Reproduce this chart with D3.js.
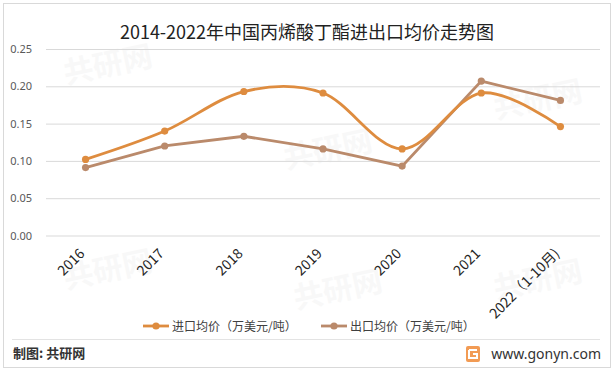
<!DOCTYPE html>
<html>
<head>
<meta charset="utf-8">
<script src="https://cdn.jsdelivr.net/npm/d3@7"></script>
<style>
  body { margin: 0; background: #fff; }
  svg { display: block; font-family: "Microsoft YaHei", "Noto Sans CJK SC", sans-serif; }
</style>
</head>
<body>
<div id="chart"></div>
<script>
// data
var years = ["2016", "2017", "2018", "2019", "2020", "2021", "2022（1-10月)"];
var importPrice = [0.102, 0.140, 0.193, 0.191, 0.116, 0.191, 0.146];
var exportPrice = [0.091, 0.120, 0.133, 0.116, 0.093, 0.207, 0.181];
var yTicks = [0, 0.05, 0.10, 0.15, 0.20, 0.25];
var seriesNames = ["进口均价（万美元/吨）", "出口均价（万美元/吨）"];

var width = 614, height = 371;
var margin = {top: 49, right: 14, bottom: 135.5, left: 46};

var svg = d3.select("#chart").append("svg")
    .attr("width", width)
    .attr("height", height);

// outer frame
svg.append("rect")
    .attr("x", 3.5).attr("y", 3.5)
    .attr("width", width - 7).attr("height", height - 7)
    .attr("fill", "#fff")
    .attr("stroke", "#d9d9d9");

// faint watermarks
var marks = [[110, 75], [330, 160], [540, 110], [110, 280], [340, 300], [540, 290]];
svg.selectAll(".wm").data(marks).enter().append("text")
    .attr("class", "wm")
    .attr("x", function (d) { return d[0]; })
    .attr("y", function (d) { return d[1]; })
    .attr("transform", function (d) { return "rotate(-12," + d[0] + "," + d[1] + ")"; })
    .attr("text-anchor", "middle")
    .attr("font-size", 30)
    .attr("font-weight", "bold")
    .attr("fill", "#000")
    .attr("opacity", 0.025)
    .text("共研网");

var x = d3.scaleBand()
    .domain(years)
    .range([margin.left, width - margin.right]);

var y = d3.scaleLinear()
    .domain([0, 0.25])
    .range([height - margin.bottom, margin.top]);

// title
svg.append("text")
    .attr("x", 307).attr("y", 39)
    .attr("text-anchor", "middle")
    .attr("font-size", 18)
    .attr("fill", "#222")
    .text("2014-2022年中国丙烯酸丁酯进出口均价走势图");

// gridlines + y labels
var yAxis = svg.append("g")
    .attr("transform", "translate(" + margin.left + ",0)")
    .call(d3.axisLeft(y)
        .tickValues(yTicks)
        .tickSize(-(width - margin.left - margin.right))
        .tickFormat(d3.format(".2f"))
        .tickPadding(14));
yAxis.select(".domain").remove();
yAxis.selectAll("line").attr("stroke", "#d9d9d9");
yAxis.selectAll("text")
    .attr("font-size", 11)
    .attr("fill", "#595959")
    .attr("font-family", "Noto Sans, sans-serif");

// x labels rotated
svg.selectAll(".xlab").data(years).enter().append("text")
    .attr("class", "xlab")
    .attr("transform", function (d) {
        var cx = x(d) + x.bandwidth() / 2;
        return "translate(" + cx + "," + (height - margin.bottom + 19) + ") rotate(-45)";
    })
    .attr("text-anchor", "end")
    .attr("font-size", 14)
    .attr("fill", "#262626")
    .text(function (d) { return d; });

var colors = ["#DE8C3F", "#BA8A6B"];
var cx = function (d, i) { return x(years[i]) + x.bandwidth() / 2; };

var smoothLine = d3.line()
    .x(cx)
    .y(function (d) { return y(d); })
    .curve(d3.curveCardinal.tension(0));

var straightLine = d3.line()
    .x(cx)
    .y(function (d) { return y(d); });

var series = [
    {vals: importPrice, gen: smoothLine, color: colors[0]},
    {vals: exportPrice, gen: straightLine, color: colors[1]}
];

// draw export first so import sits on top
[series[1], series[0]].forEach(function (s) {
    svg.append("path")
        .attr("d", s.gen(s.vals))
        .attr("fill", "none")
        .attr("stroke", s.color)
        .attr("stroke-width", 2.8)
        .attr("stroke-linecap", "round");
    svg.selectAll(null).data(s.vals).enter().append("circle")
        .attr("cx", cx)
        .attr("cy", function (d) { return y(d); })
        .attr("r", 3.6)
        .attr("fill", s.color);
});

// legend
var legendX = [143, 321];
seriesNames.forEach(function (name, i) {
    var g = svg.append("g").attr("transform", "translate(" + legendX[i] + ",326)");
    g.append("line")
        .attr("x1", 0).attr("x2", 26)
        .attr("stroke", colors[i]).attr("stroke-width", 2.8);
    g.append("circle").attr("cx", 13).attr("r", 3.6).attr("fill", colors[i]);
    g.append("text")
        .attr("x", 29).attr("y", 4.5)
        .attr("font-size", 12)
        .attr("fill", "#404040")
        .text(name);
});

// separator + footer
svg.append("line")
    .attr("x1", 12).attr("x2", 600)
    .attr("y1", 339.5).attr("y2", 339.5)
    .attr("stroke", "#e3e3e3");

svg.append("text")
    .attr("x", 13).attr("y", 358)
    .attr("font-size", 13)
    .attr("font-weight", "bold")
    .attr("fill", "#333")
    .text("制图: 共研网");

var logo = svg.append("g").attr("transform", "translate(466,346)");
logo.append("rect").attr("width", 14).attr("height", 16).attr("rx", 2).attr("fill", "#F29B54");
logo.append("path").attr("d", "M3,4 H11 M3,4 V12 H11 V8 H7").attr("stroke", "#fff")
    .attr("stroke-width", 2).attr("fill", "none");

svg.append("text")
    .attr("x", 601).attr("y", 359)
    .attr("text-anchor", "end")
    .attr("font-size", 14)
    .attr("fill", "#333")
    .attr("font-family", "Noto Sans, sans-serif")
    .text("www.gonyn.com");
</script>
</body>
</html>
